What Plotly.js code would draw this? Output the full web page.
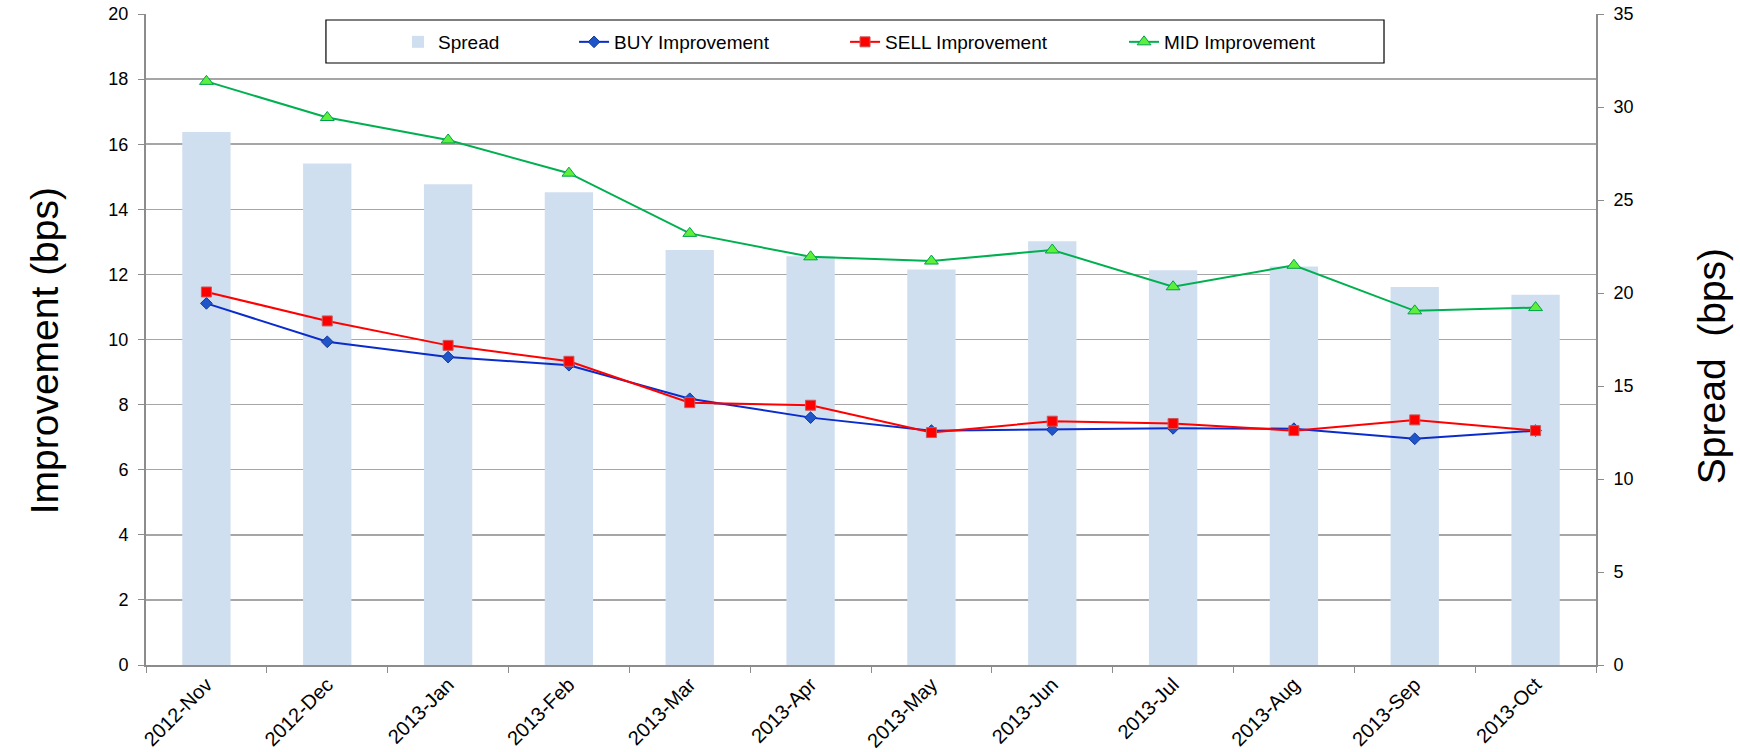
<!DOCTYPE html>
<html>
<head>
<meta charset="utf-8">
<script src="https://cdn.plot.ly/plotly-3.0.1.min.js"></script>
<style>
  html, body { margin: 0; padding: 0; background: #ffffff; }
  #chart { width: 1740px; height: 752px; }
</style>
</head>
<body>
<div id="chart"></div>
<script>
// ---- data ----
const categories = ['2012-Nov', '2012-Dec', '2013-Jan', '2013-Feb', '2013-Mar', '2013-Apr',
                    '2013-May', '2013-Jun', '2013-Jul', '2013-Aug', '2013-Sep', '2013-Oct'];
const spread = [28.66, 26.96, 25.85, 25.42, 22.31, 21.97, 21.27, 22.78, 21.22, 21.43, 20.32, 19.91];
const buyImprovement  = [11.11, 9.93, 9.46, 9.21, 8.18, 7.60, 7.20, 7.23, 7.27, 7.26, 6.95, 7.20];
const sellImprovement = [11.46, 10.57, 9.82, 9.33, 8.06, 7.98, 7.14, 7.49, 7.42, 7.20, 7.53, 7.20];
const midImprovement  = [17.93, 16.82, 16.13, 15.11, 13.26, 12.54, 12.41, 12.75, 11.62, 12.28, 10.88, 10.98];
const leftTicks = [0, 2, 4, 6, 8, 10, 12, 14, 16, 18, 20];
const rightTicks = [0, 5, 10, 15, 20, 25, 30, 35];

const FONT = 'Liberation Sans, Arial, Helvetica, sans-serif';
const AXIS_GRAY = '#8c8c8c';

const traces = [
  {
    type: 'bar', name: 'Spread', x: categories, y: spread,
    xaxis: 'x', yaxis: 'y',
    marker: { color: 'rgb(208,223,239)', line: { width: 0 } },
    legend: 'legend', hoverinfo: 'x+y'
  },
  {
    type: 'scatter', mode: 'lines+markers', name: 'BUY Improvement',
    x: categories, y: buyImprovement, xaxis: 'x', yaxis: 'y2',
    line: { color: '#0a2ccc', width: 2 },
    marker: { symbol: 'diamond', size: 9, color: '#1f55c8', line: { color: '#14389a', width: 1 } },
    legend: 'legend2'
  },
  {
    type: 'scatter', mode: 'lines+markers', name: 'SELL Improvement',
    x: categories, y: sellImprovement, xaxis: 'x', yaxis: 'y2',
    line: { color: '#ff0000', width: 2 },
    marker: { symbol: 'square', size: 10, color: '#ff0000', line: { color: '#c8595a', width: 1 } },
    legend: 'legend3'
  },
  {
    type: 'scatter', mode: 'lines+markers', name: 'MID Improvement',
    x: categories, y: midImprovement, xaxis: 'x', yaxis: 'y2',
    line: { color: '#00b050', width: 2 },
    marker: { symbol: 'triangle-up', size: 12, color: '#5cf03c', line: { color: '#00a04a', width: 1 } },
    legend: 'legend4'
  }
];

function legendAt(xp) {
  return {
    orientation: 'h', x: xp, xanchor: 'left', y: 0.957, yanchor: 'middle',
    bgcolor: 'rgba(0,0,0,0)', borderwidth: 0,
    font: { family: FONT, size: 19, color: '#000000' },
    itemclick: false, itemdoubleclick: false
  };
}

const layout = {
  width: 1740, height: 752,
  margin: { l: 146, r: 144, t: 14, b: 87, pad: 0 },
  paper_bgcolor: '#ffffff', plot_bgcolor: '#ffffff',
  font: { family: FONT, size: 18, color: '#000000' },
  bargap: 0.6,
  showlegend: true,
  legend: legendAt(0.1738),
  legend2: legendAt(0.2952),
  legend3: legendAt(0.4821),
  legend4: legendAt(0.6745),
  xaxis: {
    type: 'category', range: [-0.5, 11.5],
    tickangle: -45, tickson: 'boundaries',
    ticks: 'outside', ticklen: 6, tickwidth: 1, tickcolor: AXIS_GRAY,
    showline: true, linecolor: AXIS_GRAY, linewidth: 2,
    showgrid: false, zeroline: false,
    ticklabelstandoff: -2,
    tickfont: { family: FONT, size: 20, color: '#000000' }
  },
  yaxis: {
    side: 'right', range: [0, 35], tickvals: rightTicks,
    ticks: 'outside', ticklen: 6, tickwidth: 1, tickcolor: AXIS_GRAY,
    showline: true, linecolor: AXIS_GRAY, linewidth: 2,
    showgrid: false, zeroline: false,
    ticklabelstandoff: 6,
    tickfont: { family: FONT, size: 18, color: '#000000' }
  },
  yaxis2: {
    side: 'left', overlaying: 'y', range: [0, 20], tickvals: leftTicks,
    ticks: 'outside', ticklen: 6, tickwidth: 1, tickcolor: AXIS_GRAY,
    showline: true, linecolor: AXIS_GRAY, linewidth: 2,
    showgrid: true, gridcolor: '#a6a6a6', gridwidth: 1.5, zeroline: false,
    ticklabelstandoff: 6,
    tickfont: { family: FONT, size: 18, color: '#000000' }
  },
  shapes: [
    { type: 'rect', xref: 'paper', yref: 'paper', layer: 'above',
      x0: 0.1241, x1: 0.8538, y0: 0.9247, y1: 0.9908,
      line: { color: '#000000', width: 1.2 }, fillcolor: 'rgba(255,255,255,0)' }
  ],
  annotations: [
    { text: 'Improvement (bps)', xref: 'paper', yref: 'paper', x: -0.0703, y: 0.482,
      xanchor: 'center', yanchor: 'middle', textangle: -90, showarrow: false,
      font: { family: FONT, size: 39, color: '#000000' } },
    { text: 'Spread\u00a0 (bps)', xref: 'paper', yref: 'paper', x: 1.0793, y: 0.459,
      xanchor: 'center', yanchor: 'middle', textangle: -90, showarrow: false,
      font: { family: FONT, size: 39, color: '#000000' } }
  ]
};

Plotly.newPlot('chart', traces, layout, { displayModeBar: false, staticPlot: true });
</script>
</body>
</html>
